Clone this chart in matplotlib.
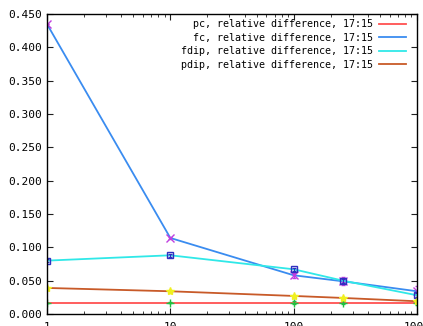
import matplotlib
matplotlib.use("Agg")
import matplotlib.pyplot as plt
from matplotlib.ticker import FixedLocator, LogLocator, NullFormatter

plt.rcParams['font.family'] = 'DejaVu Sans Mono'

x = [1, 10, 100, 250, 1000]
pc = [0.017, 0.017, 0.017, 0.017, 0.017]
fc = [0.435, 0.114, 0.058, 0.049, 0.034]
fdip = [0.080, 0.088, 0.067, 0.050, 0.028]
pdip = [0.039, 0.034, 0.027, 0.024, 0.019]
pc_err = [0.0, 0.001, 0.002, 0.002, 0.004]
fc_err = [0.0, 0.001, 0.004, 0.006, 0.008]
fdip_err = [0.002, 0.002, 0.002, 0.003, 0.003]
pdip_err = [0.002, 0.002, 0.002, 0.002, 0.003]

labels = ["  pc, relative difference, 17:15",
          "  fc, relative difference, 17:15",
          "fdip, relative difference, 17:15",
          "pdip, relative difference, 17:15"]
line_cols = ['#ff5050', '#3a8cf0', '#30e8e8', '#c85a28']
mark_cols = ['#20c040', '#c040e0', '#3030c0', '#f0f020']
markers = ['+', 'x', 's', '*']
series = [pc, fc, fdip, pdip]
errs = [pc_err, fc_err, fdip_err, pdip_err]

fig = plt.figure(figsize=(4.23, 3.26), dpi=100)
ax = fig.add_axes([0.111, 0.037, 0.875, 0.92])

handles = []
for ys, er, lc, mc, mk, lab in zip(series, errs, line_cols, mark_cols, markers, labels):
    h, = ax.plot(x, ys, color=lc, lw=1.3, label=lab)
    handles.append(h)
    ax.errorbar(x, ys, yerr=er, fmt='none', ecolor=mc, elinewidth=0.8, capsize=1.5)
    ax.plot(x, ys, ls='none', marker=mk, color=mc, ms=6 if mk != 's' else 5,
            mfc='none' if mk == 's' else mc, mew=1.0)

ax.set_xscale('log')
ax.set_xlim(1, 1000)
ax.set_ylim(0, 0.45)
ax.yaxis.set_major_locator(FixedLocator([i * 0.05 for i in range(10)]))
ax.set_yticklabels([f"{i * 0.05:.3f}" for i in range(10)])
ax.xaxis.set_major_locator(FixedLocator([1, 10, 100, 1000]))
ax.set_xticklabels(["1", "10", "100", "1000"])
ax.xaxis.set_minor_locator(LogLocator(base=10, subs=range(2, 10)))
ax.xaxis.set_minor_formatter(NullFormatter())
ax.tick_params(which='both', direction='in', top=True, right=True, labelsize=8, color='#202020')
ax.tick_params(which='major', length=4)
ax.tick_params(which='minor', length=2)
ax.tick_params(axis='x', pad=6)
for s in ax.spines.values():
    s.set_linewidth(1.0)

ax.legend(handles=handles, loc='upper right', frameon=False, markerfirst=False,
          fontsize=7.2, handlelength=2.7, labelspacing=0.35, borderaxespad=0.0,
          handletextpad=0.6, borderpad=0.2, bbox_to_anchor=(0.975, 0.99))

fig.savefig("out.png", dpi=100)
